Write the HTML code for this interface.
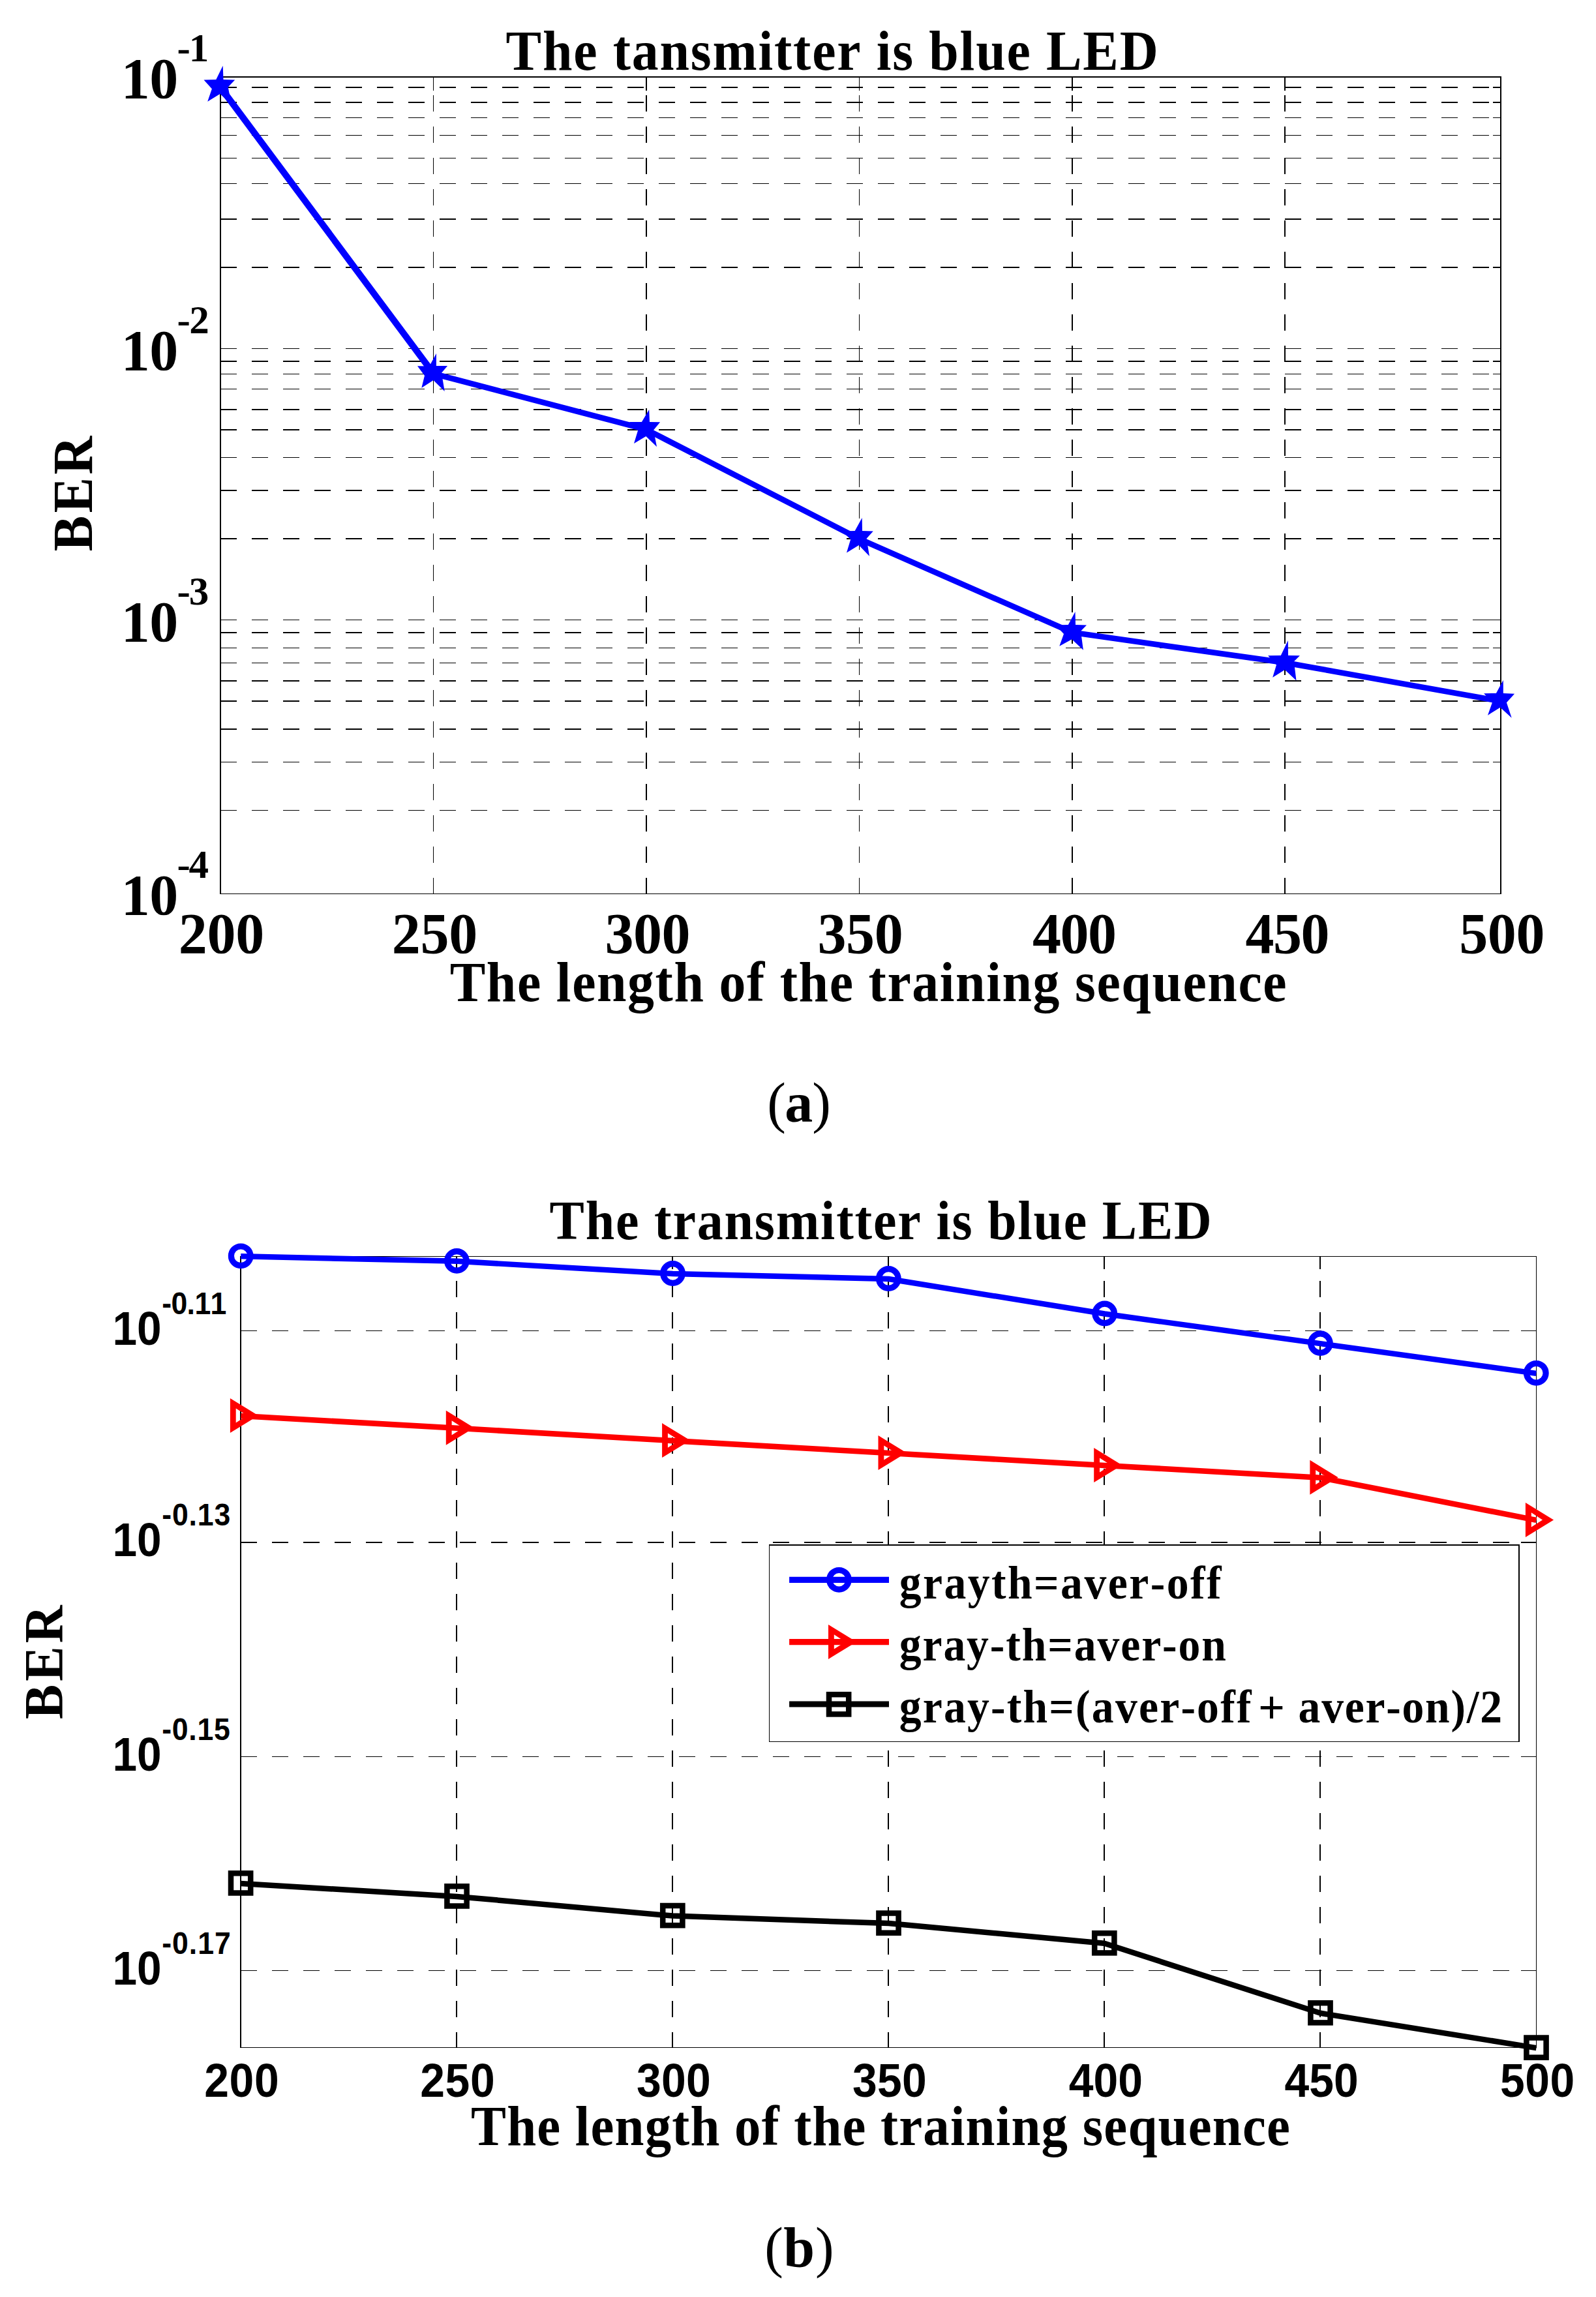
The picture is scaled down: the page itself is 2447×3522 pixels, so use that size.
<!DOCTYPE html>
<html><head><meta charset="utf-8"><title>BER vs training sequence length</title>
<style>html,body{margin:0;padding:0;background:#fff;}svg{display:block;}text{font-kerning:none;}</style>
</head><body>
<svg width="2447" height="3522" viewBox="0 0 2447 3522">
<rect x="0" y="0" width="2447" height="3522" fill="#fff"/>
<g shape-rendering="crispEdges">
<line x1="338" y1="134" x2="2301" y2="134" stroke="#000" stroke-width="2" stroke-dasharray="24.6 23.4"/>
<line x1="2289" y1="134" x2="2301" y2="134" stroke="#000" stroke-width="2"/>
<line x1="338" y1="157" x2="2301" y2="157" stroke="#000" stroke-width="2" stroke-dasharray="24.6 23.4"/>
<line x1="2289" y1="157" x2="2301" y2="157" stroke="#000" stroke-width="2"/>
<line x1="338" y1="180.5" x2="2301" y2="180.5" stroke="#000" stroke-width="1" stroke-dasharray="24.6 23.4"/>
<line x1="2289" y1="180.5" x2="2301" y2="180.5" stroke="#000" stroke-width="1"/>
<line x1="338" y1="207.5" x2="2301" y2="207.5" stroke="#000" stroke-width="1" stroke-dasharray="24.6 23.4"/>
<line x1="2289" y1="207.5" x2="2301" y2="207.5" stroke="#000" stroke-width="1"/>
<line x1="338" y1="242.5" x2="2301" y2="242.5" stroke="#000" stroke-width="1" stroke-dasharray="24.6 23.4"/>
<line x1="2289" y1="242.5" x2="2301" y2="242.5" stroke="#000" stroke-width="1"/>
<line x1="338" y1="281.5" x2="2301" y2="281.5" stroke="#000" stroke-width="1" stroke-dasharray="24.6 23.4"/>
<line x1="2289" y1="281.5" x2="2301" y2="281.5" stroke="#000" stroke-width="1"/>
<line x1="338" y1="336" x2="2301" y2="336" stroke="#000" stroke-width="2" stroke-dasharray="24.6 23.4"/>
<line x1="2289" y1="336" x2="2301" y2="336" stroke="#000" stroke-width="2"/>
<line x1="338" y1="410" x2="2301" y2="410" stroke="#000" stroke-width="2" stroke-dasharray="24.6 23.4"/>
<line x1="2289" y1="410" x2="2301" y2="410" stroke="#000" stroke-width="2"/>
<line x1="338" y1="534.5" x2="2301" y2="534.5" stroke="#000" stroke-width="1" stroke-dasharray="24.6 23.4"/>
<line x1="2280" y1="534.5" x2="2301" y2="534.5" stroke="#000" stroke-width="1"/>
<line x1="338" y1="554" x2="2301" y2="554" stroke="#000" stroke-width="2" stroke-dasharray="24.6 23.4"/>
<line x1="2289" y1="554" x2="2301" y2="554" stroke="#000" stroke-width="2"/>
<line x1="338" y1="573.5" x2="2301" y2="573.5" stroke="#000" stroke-width="1" stroke-dasharray="24.6 23.4"/>
<line x1="2289" y1="573.5" x2="2301" y2="573.5" stroke="#000" stroke-width="1"/>
<line x1="338" y1="596.5" x2="2301" y2="596.5" stroke="#000" stroke-width="1" stroke-dasharray="24.6 23.4"/>
<line x1="2289" y1="596.5" x2="2301" y2="596.5" stroke="#000" stroke-width="1"/>
<line x1="338" y1="628" x2="2301" y2="628" stroke="#000" stroke-width="2" stroke-dasharray="24.6 23.4"/>
<line x1="2289" y1="628" x2="2301" y2="628" stroke="#000" stroke-width="2"/>
<line x1="338" y1="659" x2="2301" y2="659" stroke="#000" stroke-width="2" stroke-dasharray="24.6 23.4"/>
<line x1="2289" y1="659" x2="2301" y2="659" stroke="#000" stroke-width="2"/>
<line x1="338" y1="701.5" x2="2301" y2="701.5" stroke="#000" stroke-width="1" stroke-dasharray="24.6 23.4"/>
<line x1="2289" y1="701.5" x2="2301" y2="701.5" stroke="#000" stroke-width="1"/>
<line x1="338" y1="752" x2="2301" y2="752" stroke="#000" stroke-width="2" stroke-dasharray="24.6 23.4"/>
<line x1="2289" y1="752" x2="2301" y2="752" stroke="#000" stroke-width="2"/>
<line x1="338" y1="826" x2="2301" y2="826" stroke="#000" stroke-width="2" stroke-dasharray="24.6 23.4"/>
<line x1="2289" y1="826" x2="2301" y2="826" stroke="#000" stroke-width="2"/>
<line x1="338" y1="950.5" x2="2301" y2="950.5" stroke="#000" stroke-width="1" stroke-dasharray="24.6 23.4"/>
<line x1="2280" y1="950.5" x2="2301" y2="950.5" stroke="#000" stroke-width="1"/>
<line x1="338" y1="970" x2="2301" y2="970" stroke="#000" stroke-width="2" stroke-dasharray="24.6 23.4"/>
<line x1="2289" y1="970" x2="2301" y2="970" stroke="#000" stroke-width="2"/>
<line x1="338" y1="993.5" x2="2301" y2="993.5" stroke="#000" stroke-width="1" stroke-dasharray="24.6 23.4"/>
<line x1="2289" y1="993.5" x2="2301" y2="993.5" stroke="#000" stroke-width="1"/>
<line x1="338" y1="1016.5" x2="2301" y2="1016.5" stroke="#000" stroke-width="1" stroke-dasharray="24.6 23.4"/>
<line x1="2289" y1="1016.5" x2="2301" y2="1016.5" stroke="#000" stroke-width="1"/>
<line x1="338" y1="1044" x2="2301" y2="1044" stroke="#000" stroke-width="2" stroke-dasharray="24.6 23.4"/>
<line x1="2289" y1="1044" x2="2301" y2="1044" stroke="#000" stroke-width="2"/>
<line x1="338" y1="1075" x2="2301" y2="1075" stroke="#000" stroke-width="2" stroke-dasharray="24.6 23.4"/>
<line x1="2289" y1="1075" x2="2301" y2="1075" stroke="#000" stroke-width="2"/>
<line x1="338" y1="1118" x2="2301" y2="1118" stroke="#000" stroke-width="2" stroke-dasharray="24.6 23.4"/>
<line x1="2289" y1="1118" x2="2301" y2="1118" stroke="#000" stroke-width="2"/>
<line x1="338" y1="1168.5" x2="2301" y2="1168.5" stroke="#000" stroke-width="1" stroke-dasharray="24.6 23.4"/>
<line x1="2289" y1="1168.5" x2="2301" y2="1168.5" stroke="#000" stroke-width="1"/>
<line x1="338" y1="1242.5" x2="2301" y2="1242.5" stroke="#000" stroke-width="1" stroke-dasharray="24.6 23.4"/>
<line x1="2289" y1="1242.5" x2="2301" y2="1242.5" stroke="#000" stroke-width="1"/>
<line x1="664.5" y1="1370.5" x2="664.5" y2="118" stroke="#000" stroke-width="1" stroke-dasharray="24.5 23.5"/>
<line x1="664.5" y1="118" x2="664.5" y2="138.5" stroke="#000" stroke-width="1"/>
<line x1="991" y1="1370.5" x2="991" y2="118" stroke="#000" stroke-width="2" stroke-dasharray="24.5 23.5"/>
<line x1="991" y1="118" x2="991" y2="138.5" stroke="#000" stroke-width="2"/>
<line x1="1317.5" y1="1370.5" x2="1317.5" y2="118" stroke="#000" stroke-width="1" stroke-dasharray="24.5 23.5"/>
<line x1="1317.5" y1="118" x2="1317.5" y2="138.5" stroke="#000" stroke-width="1"/>
<line x1="1644" y1="1370.5" x2="1644" y2="118" stroke="#000" stroke-width="2" stroke-dasharray="24.5 23.5"/>
<line x1="1644" y1="118" x2="1644" y2="138.5" stroke="#000" stroke-width="2"/>
<line x1="1970" y1="1370.5" x2="1970" y2="118" stroke="#000" stroke-width="2" stroke-dasharray="24.5 23.5"/>
<line x1="1970" y1="118" x2="1970" y2="138.5" stroke="#000" stroke-width="2"/>
<line x1="338" y1="117" x2="338" y2="1371.0" stroke="#000" stroke-width="2"/>
<line x1="2301" y1="117" x2="2301" y2="1371.0" stroke="#000" stroke-width="2"/>
<line x1="337" y1="118" x2="2302" y2="118" stroke="#000" stroke-width="2"/>
<line x1="337" y1="1370.5" x2="2302" y2="1370.5" stroke="#000" stroke-width="1"/>
</g>
<polyline points="664.8,573.0 990.7,658.5 1316.8,825.9 1644.0,969.8 1970.6,1016.1 2300.1,1075.0" fill="none" stroke="#0000ff" stroke-width="8.7" stroke-linejoin="round"/>
<line x1="337.8" y1="133.6" x2="664.8" y2="573.0" stroke="#0000ff" stroke-width="10" stroke-linecap="round"/>
<polygon points="341.7,100.7 342.5,122.0 360.2,122.4 349.7,133.4 354.9,160.2 337.4,144.0 318.2,155.8 324.9,136.2 312.5,122.4 331.3,122.0" fill="#0000ff"/>
<polygon points="668.9,541.9 668.9,561.0 686.1,561.1 677.0,571.7 681.7,599.9 664.5,582.9 646.3,594.8 651.0,576.0 640.0,561.3 658.3,561.4" fill="#0000ff"/>
<polygon points="995.2,627.9 996.0,646.9 1012.1,647.2 1002.0,659.4 1007.0,685.0 990.4,668.9 972.0,679.9 978.0,660.2 965.0,647.1 983.9,646.9" fill="#0000ff"/>
<polygon points="1321.7,794.0 1322.0,814.0 1338.8,814.4 1328.6,825.8 1333.0,852.7 1316.8,836.0 1298.0,847.4 1304.2,827.0 1291.1,814.5 1310.7,814.0" fill="#0000ff"/>
<polygon points="1648.5,938.0 1649.0,958.1 1666.0,958.6 1657.0,967.7 1660.9,996.7 1643.4,980.3 1624.3,990.8 1631.0,971.9 1618.3,958.4 1637.8,958.1" fill="#0000ff"/>
<polygon points="1974.8,982.0 1975.0,1005.0 1992.9,1005.3 1983.9,1014.3 1987.5,1043.6 1969.9,1027.0 1951.2,1038.8 1957.0,1019.4 1944.1,1005.3 1963.8,1005.0" fill="#0000ff"/>
<polygon points="2304.8,1042.8 2304.8,1062.9 2322.1,1063.8 2309.9,1077.3 2317.7,1100.8 2300.2,1084.8 2281.0,1096.7 2287.9,1077.3 2275.1,1063.2 2293.9,1062.9" fill="#0000ff"/>
<text transform="scale(0.94,1)" x="825.13" y="106.60" style="font-family:'Liberation Serif',serif;font-weight:bold;font-size:87px" fill="#000" textLength="1063.91" lengthAdjust="spacing">The tansmitter is blue LED</text>
<text x="185.75" y="150.10" style="font-family:'Liberation Serif',serif;font-weight:bold;font-size:88px" fill="#000" textLength="87.50" lengthAdjust="spacing">10</text>
<text x="271.47" y="93.80" style="font-family:'Liberation Serif',serif;font-weight:bold;font-size:61px" fill="#000" textLength="48.69" lengthAdjust="spacing">-1</text>
<text x="185.75" y="567.10" style="font-family:'Liberation Serif',serif;font-weight:bold;font-size:88px" fill="#000" textLength="87.50" lengthAdjust="spacing">10</text>
<text x="271.47" y="510.80" style="font-family:'Liberation Serif',serif;font-weight:bold;font-size:61px" fill="#000" textLength="49.25" lengthAdjust="spacing">-2</text>
<text x="185.75" y="982.80" style="font-family:'Liberation Serif',serif;font-weight:bold;font-size:88px" fill="#000" textLength="87.50" lengthAdjust="spacing">10</text>
<text x="271.47" y="926.50" style="font-family:'Liberation Serif',serif;font-weight:bold;font-size:61px" fill="#000" textLength="48.72" lengthAdjust="spacing">-3</text>
<text x="185.75" y="1402.40" style="font-family:'Liberation Serif',serif;font-weight:bold;font-size:88px" fill="#000" textLength="87.50" lengthAdjust="spacing">10</text>
<text x="271.47" y="1346.10" style="font-family:'Liberation Serif',serif;font-weight:bold;font-size:61px" fill="#000" textLength="48.47" lengthAdjust="spacing">-4</text>
<text x="273.70" y="1460.80" style="font-family:'Liberation Serif',serif;font-weight:bold;font-size:88px" fill="#000" textLength="131.45" lengthAdjust="spacing">200</text>
<text x="600.70" y="1460.80" style="font-family:'Liberation Serif',serif;font-weight:bold;font-size:88px" fill="#000" textLength="131.45" lengthAdjust="spacing">250</text>
<text x="927.49" y="1460.80" style="font-family:'Liberation Serif',serif;font-weight:bold;font-size:88px" fill="#000" textLength="131.06" lengthAdjust="spacing">300</text>
<text x="1253.59" y="1460.80" style="font-family:'Liberation Serif',serif;font-weight:bold;font-size:88px" fill="#000" textLength="131.06" lengthAdjust="spacing">350</text>
<text x="1583.10" y="1460.80" style="font-family:'Liberation Serif',serif;font-weight:bold;font-size:88px" fill="#000" textLength="128.95" lengthAdjust="spacing">400</text>
<text x="1909.60" y="1460.80" style="font-family:'Liberation Serif',serif;font-weight:bold;font-size:88px" fill="#000" textLength="128.95" lengthAdjust="spacing">450</text>
<text x="2237.18" y="1460.80" style="font-family:'Liberation Serif',serif;font-weight:bold;font-size:88px" fill="#000" textLength="131.27" lengthAdjust="spacing">500</text>
<text transform="scale(0.94,1)" x="733.75" y="1535.20" style="font-family:'Liberation Serif',serif;font-weight:bold;font-size:87px" fill="#000" textLength="1364.78" lengthAdjust="spacing">The length of the training sequence</text>
<text transform="translate(140.90,0) rotate(-90) scale(0.94,1)" x="-899.32" y="0" style="font-family:'Liberation Serif',serif;font-weight:bold;font-size:87px" fill="#000" textLength="187.91" lengthAdjust="spacing">BER</text>
<text x="1176.28" y="1720.30" style="font-family:'Liberation Serif',serif;font-size:86px" fill="#000" >(</text>
<text x="1203.22" y="1720.30" style="font-family:'Liberation Serif',serif;font-weight:bold;font-size:86px" fill="#000" >a</text>
<text x="1245.23" y="1720.30" style="font-family:'Liberation Serif',serif;font-size:86px" fill="#000" >)</text>
<g shape-rendering="crispEdges">
<line x1="369" y1="2040.5" x2="2355.5" y2="2040.5" stroke="#000" stroke-width="1" stroke-dasharray="25 23"/>
<line x1="2332.0" y1="2040.5" x2="2355.5" y2="2040.5" stroke="#000" stroke-width="1"/>
<line x1="369" y1="2365" x2="2355.5" y2="2365" stroke="#000" stroke-width="2" stroke-dasharray="25 23"/>
<line x1="2332.0" y1="2365" x2="2355.5" y2="2365" stroke="#000" stroke-width="2"/>
<line x1="369" y1="2693.5" x2="2355.5" y2="2693.5" stroke="#000" stroke-width="1" stroke-dasharray="25 23"/>
<line x1="2332.0" y1="2693.5" x2="2355.5" y2="2693.5" stroke="#000" stroke-width="1"/>
<line x1="369" y1="3021.5" x2="2355.5" y2="3021.5" stroke="#000" stroke-width="1" stroke-dasharray="25 23"/>
<line x1="2332.0" y1="3021.5" x2="2355.5" y2="3021.5" stroke="#000" stroke-width="1"/>
<line x1="700" y1="3139.5" x2="700" y2="1926.5" stroke="#000" stroke-width="2" stroke-dasharray="24.5 23.5" stroke-dashoffset="1.3"/>
<line x1="700" y1="1926.5" x2="700" y2="1946.0" stroke="#000" stroke-width="2"/>
<line x1="1031" y1="3139.5" x2="1031" y2="1926.5" stroke="#000" stroke-width="2" stroke-dasharray="24.5 23.5" stroke-dashoffset="1.3"/>
<line x1="1031" y1="1926.5" x2="1031" y2="1946.0" stroke="#000" stroke-width="2"/>
<line x1="1362" y1="3139.5" x2="1362" y2="1926.5" stroke="#000" stroke-width="2" stroke-dasharray="24.5 23.5" stroke-dashoffset="1.3"/>
<line x1="1362" y1="1926.5" x2="1362" y2="1946.0" stroke="#000" stroke-width="2"/>
<line x1="1693" y1="3139.5" x2="1693" y2="1926.5" stroke="#000" stroke-width="2" stroke-dasharray="24.5 23.5" stroke-dashoffset="1.3"/>
<line x1="1693" y1="1926.5" x2="1693" y2="1946.0" stroke="#000" stroke-width="2"/>
<line x1="2024" y1="3139.5" x2="2024" y2="1926.5" stroke="#000" stroke-width="2" stroke-dasharray="24.5 23.5" stroke-dashoffset="1.3"/>
<line x1="2024" y1="1926.5" x2="2024" y2="1946.0" stroke="#000" stroke-width="2"/>
<line x1="369" y1="1926.0" x2="369" y2="3140.0" stroke="#000" stroke-width="2"/>
<line x1="2355.5" y1="1926.0" x2="2355.5" y2="3140.0" stroke="#000" stroke-width="1"/>
<line x1="368" y1="1926.5" x2="2356.0" y2="1926.5" stroke="#000" stroke-width="1"/>
<line x1="368" y1="3139.5" x2="2356.0" y2="3139.5" stroke="#000" stroke-width="1"/>
</g>
<polyline points="369.2,1926.3 700.4,1933.8 1031.5,1953.0 1362.3,1961.0 1693.7,2014.5 2024.4,2060.1 2355.3,2105.8" fill="none" stroke="#0000ff" stroke-width="8.4" stroke-linejoin="round"/>
<polyline points="369.4,2171.0 700.3,2189.8 1031.6,2209.1 1363.0,2228.0 1693.7,2247.0 2024.9,2265.7 2355.4,2330.9" fill="none" stroke="#ff0000" stroke-width="8.6" stroke-linejoin="round"/>
<polyline points="369.1,2887.9 700.5,2907.9 1031.3,2937.6 1362.5,2949.1 1693.3,2979.8 2024.5,3086.8 2355.5,3140.1" fill="none" stroke="#000000" stroke-width="8.5" stroke-linejoin="round"/>
<circle cx="369.2" cy="1925.8" r="14.8" fill="none" stroke="#0000ff" stroke-width="9.2"/>
<circle cx="700.35" cy="1933.35" r="14.8" fill="none" stroke="#0000ff" stroke-width="9.2"/>
<circle cx="1031.5" cy="1952.5" r="14.8" fill="none" stroke="#0000ff" stroke-width="9.2"/>
<circle cx="1362.3" cy="1960.5" r="14.8" fill="none" stroke="#0000ff" stroke-width="9.2"/>
<circle cx="1693.7" cy="2014" r="14.8" fill="none" stroke="#0000ff" stroke-width="9.2"/>
<circle cx="2024.4" cy="2059.6" r="14.8" fill="none" stroke="#0000ff" stroke-width="9.2"/>
<circle cx="2355.3" cy="2105.3" r="14.8" fill="none" stroke="#0000ff" stroke-width="9.2"/>
<path d="M352.9,2144.0 L352.9,2197.0 L396.1,2170.5 Z M361.7,2159.4 L361.7,2181.6 L379.0,2170.5 Z" fill="#ff0000" fill-rule="evenodd"/>
<path d="M683.8,2162.8 L683.8,2215.8 L727.0,2189.3 Z M692.6,2178.2 L692.6,2200.4 L709.9,2189.3 Z" fill="#ff0000" fill-rule="evenodd"/>
<path d="M1015.1,2182.1 L1015.1,2235.1 L1058.3,2208.6 Z M1023.9,2197.5 L1023.9,2219.7 L1041.2,2208.6 Z" fill="#ff0000" fill-rule="evenodd"/>
<path d="M1346.5,2201.0 L1346.5,2254.0 L1389.7,2227.5 Z M1355.3,2216.4 L1355.3,2238.6 L1372.6,2227.5 Z" fill="#ff0000" fill-rule="evenodd"/>
<path d="M1677.2,2220.0 L1677.2,2273.0 L1720.4,2246.5 Z M1686.0,2235.4 L1686.0,2257.6 L1703.3,2246.5 Z" fill="#ff0000" fill-rule="evenodd"/>
<path d="M2008.4,2238.7 L2008.4,2291.7 L2051.6,2265.2 Z M2017.2,2254.1 L2017.2,2276.3 L2034.5,2265.2 Z" fill="#ff0000" fill-rule="evenodd"/>
<path d="M2338.9,2303.9 L2338.9,2356.9 L2382.1,2330.4 Z M2347.8,2319.3 L2347.8,2341.5 L2365.0,2330.4 Z" fill="#ff0000" fill-rule="evenodd"/>
<rect x="354.0" y="2872.3" width="30.2" height="30.2" fill="none" stroke="#000" stroke-width="8.5"/>
<rect x="685.4" y="2892.3" width="30.2" height="30.2" fill="none" stroke="#000" stroke-width="8.5"/>
<rect x="1016.2" y="2922.0" width="30.2" height="30.2" fill="none" stroke="#000" stroke-width="8.5"/>
<rect x="1347.4" y="2933.5" width="30.2" height="30.2" fill="none" stroke="#000" stroke-width="8.5"/>
<rect x="1678.2" y="2964.2" width="30.2" height="30.2" fill="none" stroke="#000" stroke-width="8.5"/>
<rect x="2009.4" y="3071.2" width="30.2" height="30.2" fill="none" stroke="#000" stroke-width="8.5"/>
<rect x="2340.4" y="3124.5" width="30.2" height="30.2" fill="none" stroke="#000" stroke-width="8.5"/>
<rect x="1179.5" y="2369" width="1149.5" height="301.5" fill="#fff" stroke="none"/>
<g shape-rendering="crispEdges">
<line x1="1179" y1="2369" x2="2330" y2="2369" stroke="#000" stroke-width="2"/>
<line x1="2329" y1="2368" x2="2329" y2="2671" stroke="#000" stroke-width="2"/>
<line x1="1179.5" y1="2368" x2="1179.5" y2="2671" stroke="#000" stroke-width="1"/>
<line x1="1179" y1="2670.5" x2="2330" y2="2670.5" stroke="#000" stroke-width="1"/>
</g>
<line x1="1210.1" y1="2422.3" x2="1363" y2="2422.3" stroke="#0000ff" stroke-width="9.2"/>
<line x1="1210.1" y1="2517.6" x2="1363" y2="2517.6" stroke="#ff0000" stroke-width="9.2"/>
<line x1="1210.1" y1="2613" x2="1363" y2="2613" stroke="#000000" stroke-width="9.2"/>
<circle cx="1286.4" cy="2422.3" r="14.8" fill="none" stroke="#0000ff" stroke-width="9.2"/>
<path d="M1270.0,2490.9 L1270.0,2543.9 L1313.2,2517.4 Z M1278.8,2506.3 L1278.8,2528.5 L1296.1,2517.4 Z" fill="#ff0000" fill-rule="evenodd"/>
<rect x="1271.0" y="2598.2" width="30.2" height="30.2" fill="none" stroke="#000" stroke-width="8.5"/>
<text transform="scale(0.94,1)" x="1466.72" y="2450.80" style="font-family:'Liberation Serif',serif;font-weight:bold;font-size:72px" fill="#000" textLength="525.24" lengthAdjust="spacing">grayth=aver-off</text>
<text transform="scale(0.94,1)" x="1466.72" y="2545.60" style="font-family:'Liberation Serif',serif;font-weight:bold;font-size:72px" fill="#000" textLength="533.20" lengthAdjust="spacing">gray-th=aver-on</text>
<text transform="scale(0.94,1)" x="1466.72" y="2641.50" style="font-family:'Liberation Serif',serif;font-weight:bold;font-size:72px" fill="#000" textLength="574.17" lengthAdjust="spacing">gray-th=(aver-off</text>
<text x="1928.97" y="2641.50" style="font-family:'Liberation Serif',serif;font-weight:bold;font-size:72px" fill="#000" >+</text>
<text transform="scale(0.94,1)" x="2117.68" y="2641.50" style="font-family:'Liberation Serif',serif;font-weight:bold;font-size:72px" fill="#000" textLength="332.44" lengthAdjust="spacing">aver-on)/2</text>
<text transform="scale(0.94,1)" x="896.33" y="1899.80" style="font-family:'Liberation Serif',serif;font-weight:bold;font-size:85px" fill="#000" textLength="1080.05" lengthAdjust="spacing">The transmitter is blue LED</text>
<text transform="scale(0.93,1)" x="185.53" y="2062.00" style="font-family:'Liberation Sans',sans-serif;font-weight:bold;font-size:72.7px" fill="#000" >10</text>
<text transform="scale(0.93,1)" x="266.83" y="2014.90" style="font-family:'Liberation Sans',sans-serif;font-weight:bold;font-size:48px" fill="#000" textLength="106.76" lengthAdjust="spacing">-0.11</text>
<text transform="scale(0.93,1)" x="185.53" y="2386.50" style="font-family:'Liberation Sans',sans-serif;font-weight:bold;font-size:72.7px" fill="#000" >10</text>
<text transform="scale(0.93,1)" x="266.83" y="2339.40" style="font-family:'Liberation Sans',sans-serif;font-weight:bold;font-size:48px" fill="#000" textLength="113.18" lengthAdjust="spacing">-0.13</text>
<text transform="scale(0.93,1)" x="185.53" y="2715.00" style="font-family:'Liberation Sans',sans-serif;font-weight:bold;font-size:72.7px" fill="#000" >10</text>
<text transform="scale(0.93,1)" x="266.83" y="2667.90" style="font-family:'Liberation Sans',sans-serif;font-weight:bold;font-size:48px" fill="#000" textLength="112.67" lengthAdjust="spacing">-0.15</text>
<text transform="scale(0.93,1)" x="185.53" y="3043.00" style="font-family:'Liberation Sans',sans-serif;font-weight:bold;font-size:72.7px" fill="#000" >10</text>
<text transform="scale(0.93,1)" x="266.83" y="2995.90" style="font-family:'Liberation Sans',sans-serif;font-weight:bold;font-size:48px" fill="#000" textLength="113.77" lengthAdjust="spacing">-0.17</text>
<text transform="scale(0.93,1)" x="336.72" y="3215.20" style="font-family:'Liberation Sans',sans-serif;font-weight:bold;font-size:73px" fill="#000" textLength="123.16" lengthAdjust="spacing">200</text>
<text transform="scale(0.93,1)" x="692.63" y="3215.20" style="font-family:'Liberation Sans',sans-serif;font-weight:bold;font-size:73px" fill="#000" textLength="123.16" lengthAdjust="spacing">250</text>
<text transform="scale(0.93,1)" x="1049.40" y="3215.20" style="font-family:'Liberation Sans',sans-serif;font-weight:bold;font-size:73px" fill="#000" textLength="122.30" lengthAdjust="spacing">300</text>
<text transform="scale(0.93,1)" x="1405.31" y="3215.20" style="font-family:'Liberation Sans',sans-serif;font-weight:bold;font-size:73px" fill="#000" textLength="122.30" lengthAdjust="spacing">350</text>
<text transform="scale(0.93,1)" x="1762.12" y="3215.20" style="font-family:'Liberation Sans',sans-serif;font-weight:bold;font-size:73px" fill="#000" >400</text>
<text transform="scale(0.93,1)" x="2117.71" y="3215.20" style="font-family:'Liberation Sans',sans-serif;font-weight:bold;font-size:73px" fill="#000" >450</text>
<text transform="scale(0.93,1)" x="2473.02" y="3215.20" style="font-family:'Liberation Sans',sans-serif;font-weight:bold;font-size:73px" fill="#000" textLength="122.87" lengthAdjust="spacing">500</text>
<text transform="scale(0.94,1)" x="768.12" y="3289.00" style="font-family:'Liberation Serif',serif;font-weight:bold;font-size:86px" fill="#000" textLength="1336.12" lengthAdjust="spacing">The length of the training sequence</text>
<text transform="translate(96.00,0) rotate(-90) scale(0.94,1)" x="-2804.39" y="0" style="font-family:'Liberation Serif',serif;font-weight:bold;font-size:85px" fill="#000" textLength="185.77" lengthAdjust="spacing">BER</text>
<text x="1172.33" y="3475.40" style="font-family:'Liberation Serif',serif;font-size:86px" fill="#000" >(</text>
<text x="1201.28" y="3475.40" style="font-family:'Liberation Serif',serif;font-weight:bold;font-size:86px" fill="#000" >b</text>
<text x="1249.93" y="3475.40" style="font-family:'Liberation Serif',serif;font-size:86px" fill="#000" >)</text>
</svg>
</body></html>
